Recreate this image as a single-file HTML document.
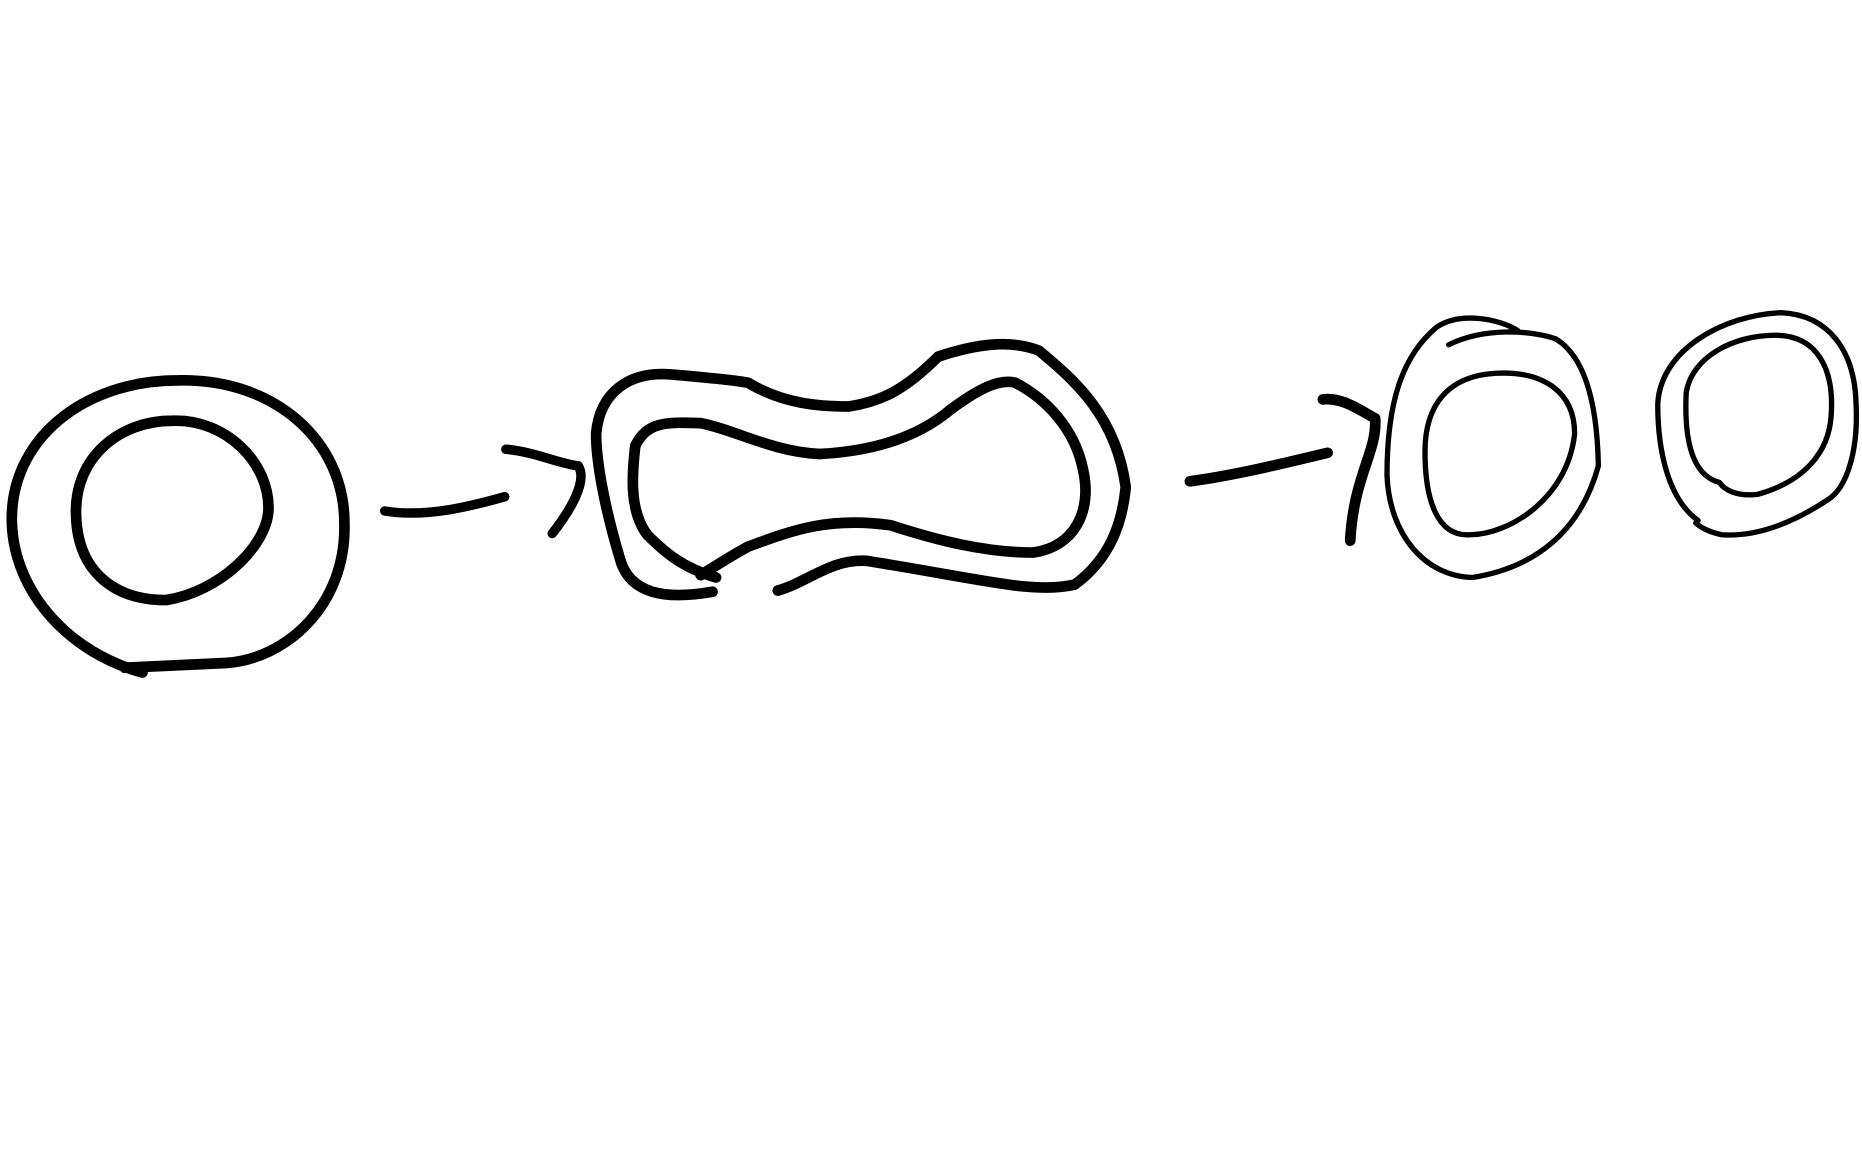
<!DOCTYPE html>
<html><head><meta charset="utf-8"><style>
html,body{margin:0;padding:0;background:#fff;}
svg{display:block;}
</style></head><body>
<svg width="1862" height="1155" viewBox="0 0 1568 972" xmlns="http://www.w3.org/2000/svg" fill="none" stroke="#000" stroke-linecap="round" stroke-linejoin="round">
  <g stroke-width="9">
    <path d="M120,566 C60,550 12,500 10,440 C8,370 70,320 150,320 C230,318 290,370 290,440 C292,510 240,555 190,558 L105,562"/>
    <path d="M140,505 C95,505 64,480 64,430 C64,385 100,354 145,354 C190,352 228,390 226,430 C224,460 185,498 140,505 Z"/>
  </g>
  <g stroke-width="8">
    <path d="M324,430 C360,436 400,425 425,418"/>
    <path d="M426,378 C450,380 470,390 487,392 C495,405 480,430 465,449"/>
  </g>
  <g stroke-width="9">
    <path d="M600,498 C560,505 530,500 522,470 C510,430 502,390 502,365 C505,330 530,312 565,315 C600,318 620,320 630,322 C660,340 690,342 715,342 C740,338 760,330 790,300 C820,290 850,285 875,295 C905,320 940,350 948,410 C945,440 935,470 905,492 C870,500 830,488 730,472 C700,470 680,490 655,497"/>
    <path d="M603,486 C575,478 560,465 545,450 C530,430 532,400 535,375 C545,355 560,355 590,356 C620,362 650,380 690,382 C730,380 770,370 800,345 C820,330 840,318 855,322 C880,335 905,360 912,395 C920,430 905,460 870,465 C830,465 790,455 750,442 C700,435 670,445 630,460 C615,468 600,478 590,484"/>
  </g>
  <g stroke-width="9">
    <path d="M1002,405 C1040,400 1080,390 1118,381"/>
    <path d="M1114,336 C1130,334 1145,345 1158,352 C1160,380 1140,400 1137,455"/>
  </g>
  <g stroke-width="4.5">
    <path d="M1278,278 C1262,268 1230,262 1210,275 C1180,300 1168,340 1168,400 C1170,450 1200,485 1240,486 C1290,478 1330,450 1346,392 C1345,340 1335,300 1310,285 C1290,278 1250,275 1220,290"/>
    <path d="M1238,450 C1210,452 1200,420 1200,380 C1200,340 1220,316 1260,314 C1300,312 1326,330 1326,365 C1320,420 1270,450 1238,450 Z"/>
  </g>
  <g stroke-width="4.5">
    <path d="M1430,438 C1405,420 1396,380 1396,340 C1398,295 1450,265 1500,263 C1540,265 1562,295 1563,340 C1565,380 1555,410 1540,420 C1510,440 1480,452 1450,450 C1440,448 1432,444 1428,440"/>
    <path d="M1448,406 C1425,400 1418,370 1420,330 C1425,300 1460,282 1495,282 C1530,282 1545,310 1542,350 C1540,380 1520,405 1480,416 C1462,418 1452,412 1448,406"/>
  </g>
</svg>
</body></html>
